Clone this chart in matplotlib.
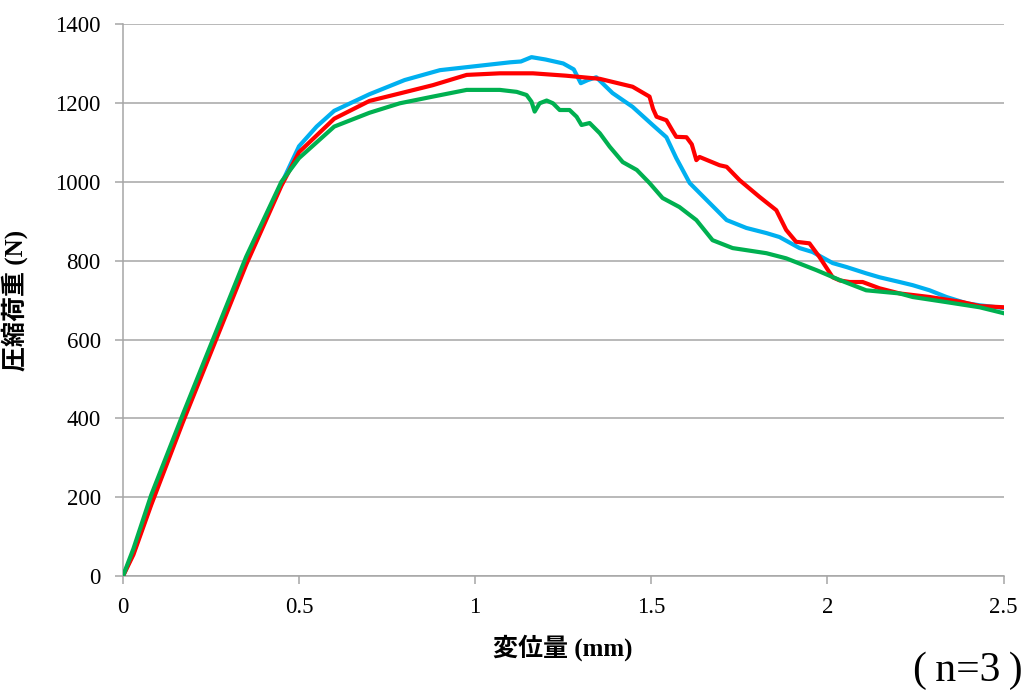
import matplotlib
matplotlib.use('Agg')
import matplotlib.pyplot as plt

SERIF = ['Liberation Serif', 'Noto Sans CJK JP']
GRID = '#A6A6A6'

# displacement (mm) / compressive load (N), three specimens
x_blue = [0, 0.03, 0.08, 0.17, 0.26, 0.35, 0.45, 0.5, 0.55, 0.6, 0.7, 0.8, 0.9, 1.0, 1.1, 1.13,
          1.16, 1.2, 1.25, 1.28, 1.3, 1.32, 1.344, 1.39, 1.447, 1.504, 1.543, 1.571, 1.609,
          1.657, 1.714, 1.77, 1.827, 1.864, 1.921, 1.958, 2.015, 2.054, 2.11, 2.148, 2.205,
          2.242, 2.29, 2.338, 2.395, 2.432, 2.5]
y_blue = [0, 60, 185, 395, 595, 795, 995, 1090, 1140, 1180, 1222, 1258, 1283, 1293, 1303, 1305,
          1316, 1310, 1300, 1285, 1250, 1258, 1265, 1225, 1190, 1144, 1113, 1060, 997,
          954, 903, 883, 870, 860, 832, 822, 794, 784, 768, 758, 746,
          738, 725, 708, 692, 687, 680]

x_red = [0, 0.03, 0.08, 0.17, 0.26, 0.35, 0.45, 0.5, 0.6, 0.7, 0.786, 0.88, 0.976, 1.07, 1.164,
         1.258, 1.354, 1.447, 1.495, 1.505, 1.515, 1.543, 1.56, 1.571, 1.6, 1.615, 1.628, 1.637,
         1.694, 1.714, 1.751, 1.807, 1.855, 1.883, 1.911, 1.949, 1.977, 2.015, 2.035, 2.063,
         2.1, 2.148, 2.205, 2.29, 2.384, 2.432, 2.5]
y_red = [0, 55, 180, 390, 590, 790, 990, 1075, 1160, 1205, 1224, 1245, 1271, 1275, 1275,
         1269, 1261, 1241, 1216, 1185, 1165, 1156, 1130, 1114, 1113, 1095, 1055, 1063,
         1042, 1038, 1004, 962, 928, 878, 848, 844, 810, 758, 750, 746,
         746, 730, 717, 708, 695, 685, 682]

x_green = [0, 0.03, 0.08, 0.17, 0.26, 0.35, 0.45, 0.5, 0.6, 0.7, 0.786, 0.88, 0.976, 1.07, 1.118,
           1.146, 1.16, 1.169, 1.183, 1.203, 1.221, 1.24, 1.268, 1.288, 1.302, 1.325, 1.354,
           1.382, 1.419, 1.459, 1.495, 1.532, 1.58, 1.628, 1.674, 1.731, 1.827, 1.883, 1.969,
           2.035, 2.11, 2.205, 2.242, 2.338, 2.432, 2.5]
y_green = [0, 70, 205, 410, 610, 810, 1000, 1060, 1140, 1175, 1199, 1216, 1233, 1233, 1228,
           1220, 1203, 1178, 1199, 1206, 1199, 1182, 1182, 1165, 1144, 1149, 1123,
           1089, 1050, 1030, 997, 959, 936, 903, 852, 832, 819, 806, 776,
           751, 725, 717, 708, 695, 682, 667]

x_ticks = [0, 0.5, 1, 1.5, 2, 2.5]
x_ticklabels = ['0', '0.5', '1', '1.5', '2', '2.5']
y_ticks = [0, 200, 400, 600, 800, 1000, 1200, 1400]

fig = plt.figure(figsize=(10.24, 6.96), dpi=100)
ax = fig.add_axes([0.120, 0.172, 0.860, 0.7935])

ax.plot(x_blue, y_blue, color='#00B0F0', lw=3.0, solid_joinstyle='round', zorder=3)
ax.plot(x_red, y_red, color='#FF0000', lw=3.0, solid_joinstyle='round', zorder=4)
ax.plot(x_green, y_green, color='#00B050', lw=3.0, solid_joinstyle='round', zorder=5)

ax.set_xlim(0, 2.5)
ax.set_ylim(0, 1400)
ax.set_xticks(x_ticks)
ax.set_xticklabels(x_ticklabels)
ax.set_yticks(y_ticks)
ax.grid(axis='y', color=GRID, lw=1.1)
ax.set_axisbelow(True)

for s in ['top', 'right']:
    ax.spines[s].set_visible(False)
for s in ['left', 'bottom']:
    ax.spines[s].set_color(GRID)
    ax.spines[s].set_linewidth(1.1)
ax.tick_params(axis='both', direction='out', length=6, width=1.1, color=GRID, labelsize=16.5)
ax.tick_params(axis='y', pad=10)
ax.tick_params(axis='x', pad=9)
for lab in ax.get_xticklabels() + ax.get_yticklabels():
    lab.set_family(SERIF)

ax.set_xlabel('変位量 (mm)', family=SERIF, fontsize=18, fontweight='bold')
ax.xaxis.set_label_coords(0.5, -0.105)
ax.set_ylabel('圧縮荷重 (N)', family=SERIF, fontsize=18, fontweight='bold')
ax.yaxis.set_label_coords(-0.108, 0.5)

fig.text(0.945, 0.036, '(\u2009n=3\u2009)', family=SERIF, fontsize=30, ha='center', va='center')

fig.savefig('out.png', dpi=100)
